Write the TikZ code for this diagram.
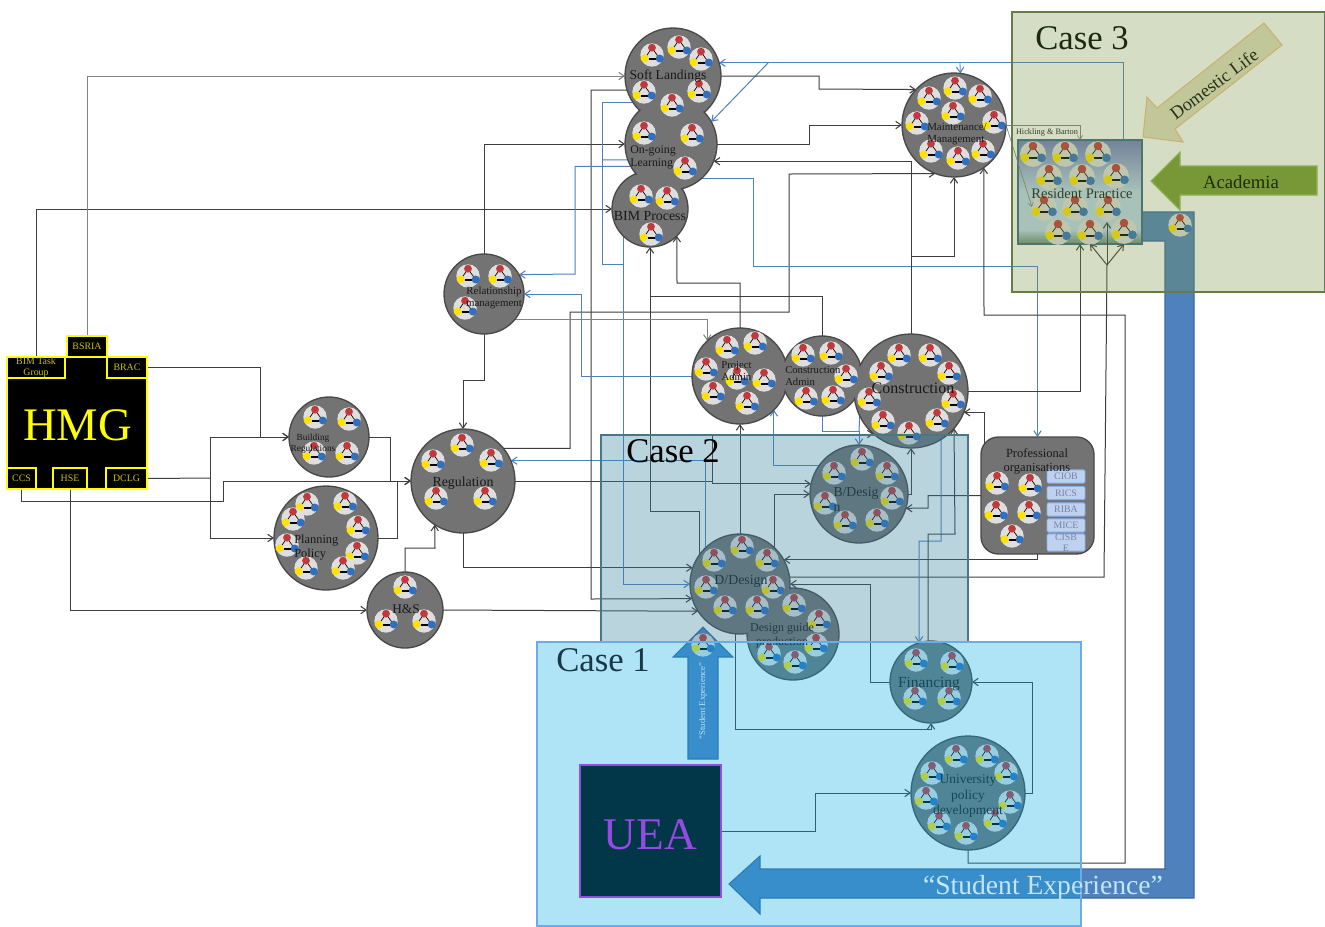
\documentclass[tikz,border=0pt]{standalone}
\usepackage{fontspec}
\setmainfont{Liberation Serif}
\usetikzlibrary{arrows.meta,calc}
\definecolor{dk}{RGB}{62,62,62}
\definecolor{gy}{RGB}{130,130,130}
\definecolor{bu}{RGB}{79,129,189}
\definecolor{buD}{RGB}{60,105,160}
\definecolor{blobfill}{RGB}{115,115,115}
\definecolor{blobline}{RGB}{72,72,72}
\definecolor{icobg}{RGB}{222,222,222}
\definecolor{icored}{RGB}{192,57,60}
\definecolor{icoyel}{RGB}{255,226,0}
\definecolor{icoblu}{RGB}{50,112,190}
\definecolor{hmgy}{RGB}{255,255,0}
\definecolor{hmgt}{RGB}{205,195,0}
\definecolor{caseA}{RGB}{8,170,230}
\definecolor{caseAl}{RGB}{110,170,230}
\definecolor{caseB}{RGB}{55,129,156}
\definecolor{caseBl}{RGB}{70,120,140}
\definecolor{caseC}{RGB}{118,146,60}
\definecolor{caseCl}{RGB}{100,125,70}
\definecolor{miniF}{RGB}{190,210,240}
\definecolor{miniD}{RGB}{135,175,230}
\definecolor{miniT}{RGB}{120,130,160}
\definecolor{txt}{RGB}{25,25,25}
\definecolor{domF}{RGB}{228,223,196}
\definecolor{domD}{RGB}{240,190,140}
\definecolor{acaF}{RGB}{121,155,54}
\definecolor{acaD}{RGB}{150,190,90}
\definecolor{resD}{RGB}{60,105,130}
\definecolor{ueaC}{RGB}{215,30,225}
\definecolor{tcA}{RGB}{25,55,70}
\definecolor{tcC}{RGB}{30,40,15}
\definecolor{tcD}{RGB}{40,50,25}
\definecolor{tcE}{RGB}{30,45,10}
\definecolor{tcS}{RGB}{195,230,250}
\definecolor{tcU}{RGB}{190,225,245}
\definecolor{rgA}{RGB}{106,137,117}
\definecolor{rgB}{RGB}{190,215,240}
\definecolor{rgC}{RGB}{115,125,195}
\pgfdeclareverticalshading{resgrad}{100bp}{color(0bp)=(rgA); color(25bp)=(rgA); color(32bp)=(rgB); color(50bp)=(rgB); color(75bp)=(rgC); color(100bp)=(rgC)}
\pgfdeclarelayer{bottom}
\pgfdeclarelayer{lines}
\pgfsetlayers{bottom,lines,main}
\tikzset{
  barb/.tip={Straight Barb[length=4pt,width=5.5pt,line width=.8pt]},
  dl/.style={draw=dk,line width=.75pt,-barb},
  dn/.style={draw=dk,line width=.75pt},
  bl/.style={draw=bu,line width=.75pt,-barb},
  bn/.style={draw=bu,line width=.75pt},
  gl/.style={draw=gy,line width=.75pt,-barb},
  thinl/.style={draw=gy,line width=.5pt,-{Straight Barb[length=3pt,width=4pt]}},
  blob/.style={circle,draw=blobline,fill=blobfill,line width=1pt,inner sep=0pt,outer sep=0pt},
  lab/.style={inner sep=0pt,align=center,text=txt},
  hbox/.style={draw=hmgy,fill=black,line width=.9pt,inner sep=0pt,outer sep=0pt,align=center,text=hmgt,font=\fontsize{7.4}{8.6}\selectfont},
  mini/.style={draw=miniD,fill=miniF,line width=.7pt,rounded corners=1pt,minimum width=28.5pt,minimum height=10pt,inner sep=0pt,text=miniT,align=center,font=\fontsize{7.4}{8}\selectfont},
  casebox/.style={inner sep=0pt,outer sep=0pt,line width=.8pt},
}
\newcommand\blobnode[4]{\node[blob,minimum size=#4*1.5pt] (#1) at (#2,#3) {};}
\newcommand\blobtop[3]{\fill[blobfill] (#1.center) circle[radius=#2-1.2];}
\newcommand\oneico{%
  \fill[icobg] (0,0) circle[radius=11.7];
  \draw[black,line width=.5pt] (0,-7)--(-7.4,3.4) (0,-7)--(7.6,3.4);
  \fill[icored] (0,-7.3) circle[radius=3.9];
  \fill[icoblu] (7.7,3.5) circle[radius=4];
  \fill[icoyel] (-7.4,3.3) circle[radius=4];
  \draw[black,line width=.55pt] (-3.5,2.9)--(3.5,2.9) (-3.5,4)--(3.5,4);
}
\newcommand\icons[2][1]{\foreach \a/\b in {#2}{\begin{scope}[shift={(\a,\b)},scale=#1]\oneico\end{scope}}}
\begin{document}
\begin{tikzpicture}[x=.75pt,y=-.75pt]
\path[use as bounding box] (0,0) rectangle (1325,926);

\begin{pgfonlayer}{bottom}
\fill[white] (0,0) rectangle (1325,926);
% big arrows under the case panels
\draw[fill=bu,draw=buD,line width=.8pt] (1141,212)--(1194,212)--(1194,898)--(760,898)--(760,914)--(729,884)--(760,856)--(760,869)--(1165,869)--(1165,241)--(1141,241)--cycle;
\draw[fill=bu,draw=buD,line width=.8pt] (703,627)--(733,657)--(718,657)--(718,759)--(688,759)--(688,657)--(673,657)--cycle;
\icons{703/645,1180/225}
\draw[fill=domF,draw=domD,line width=.8pt] (1143,137)--(1183,142)--(1175,129)--(1282,45)--(1264,23)--(1157,108)--(1147,97)--cycle;
\draw[fill=acaF,draw=acaD,line width=.8pt] (1151,181)--(1180,152)--(1180,166)--(1317,166)--(1317,195)--(1180,195)--(1180,210)--cycle;
% Resident practice
\node[shading=resgrad,draw=resD,line width=1pt,minimum width=93pt,minimum height=78pt,inner sep=0pt,outer sep=0pt] (res) at (1080,192) {};
\icons[1.1]{1033/154,1065/154,1098/154,1049/177,1082/177,1116/176,1044/208,1075/208,1108/208,1058/232,1090/232,1124/231}
\end{pgfonlayer}

% circles
\blobnode{soft}{673}{76}{48}
\blobnode{bim}{650}{209}{38}
\blobnode{learn}{671}{144}{46}
\blobnode{maint}{954}{125}{52}
\blobnode{rel}{484}{294}{40}
\blobnode{proj}{740}{376}{48}
\blobnode{cons}{822}{376}{40}
\blobnode{constr}{911}{391}{57}
\blobnode{bdes}{859}{494}{49}
\blobnode{guide}{793}{634}{46}
\blobnode{ddes}{740}{584}{50}
\blobnode{fin}{931}{682}{41}
\blobnode{univ}{968}{793}{57}
\blobnode{breg}{329}{437}{40}
\blobnode{plan}{326}{538}{52}
\blobnode{reg}{463}{481}{52}
\blobnode{hs}{405}{610}{38}
\node[draw=blobline,fill=blobfill,line width=1pt,rounded corners=13pt,minimum width=84.75pt,minimum height=87.75pt,inner sep=0pt,outer sep=0pt] (prof) at (1037.5,495.5) {};
% merged groups have no inner outline
\blobtop{soft}{48}{}\blobtop{bim}{38}{}\blobtop{learn}{46}{}
\blobtop{proj}{48}{}\blobtop{cons}{40}{}\blobtop{constr}{57}{}
\blobtop{ddes}{50}{}\blobtop{guide}{46}{}

% HMG block
\node[hbox,minimum width=105pt,minimum height=99pt] (hmg) at (77,423) {};
\node[hbox,minimum width=30pt,minimum height=15.75pt] (bsria) at (87,346.5) {BSRIA};
\node[hbox,minimum width=43.5pt,minimum height=15.75pt] (task) at (36,367.5) {BIM Task\\Group};
\node[hbox,minimum width=30pt,minimum height=15.75pt] (brac) at (127,367.5) {BRAC};
\node[hbox,minimum width=21.75pt,minimum height=15.75pt] (ccs) at (21.5,478.5) {CCS};
\node[hbox,minimum width=25.5pt,minimum height=15.75pt] (hse) at (70,478.5) {HSE};
\node[hbox,minimum width=30.75pt,minimum height=15.75pt] (dclg) at (126.5,478.5) {DCLG};
\node[lab,text=hmgy,font=\fontsize{35}{35}\selectfont] (thmg) at (77.5,425) {HMG};

% UEA
\node[draw=ueaC,fill=black,line width=1pt,minimum width=105.75pt,minimum height=99pt,inner sep=0pt,outer sep=0pt,text=ueaC,font=\fontsize{34}{34}\selectfont] (uea) at (650.5,831) {\raisebox{-2.5pt}[\height][0pt]{UEA}};

% junction coordinates
\coordinate (jbim) at (650,296);
\coordinate (jfork) at (1107,265);
\coordinate (jres1) at (1107,222);
\coordinate (jres2) at (1090,244);
\coordinate (jres3) at (1124,244);
\coordinate (jblue) at (1123,140);
\coordinate (jdiag) at (768,63);
\coordinate (jmt) at (960,63);
\coordinate (jreg) at (712,481);
\coordinate (jmnt) at (911,256);
\coordinate (jhmg) at (210,478);
\coordinate (jprof) at (984,445);
\coordinate (jrp) at (1032,207);
\coordinate (jlearn) at (602,160);

\begin{pgfonlayer}{lines}
% connectors: HMG
\draw[dl] (task.north) |- (bim.180);
\draw[gl] (bsria.north) |- (soft.180);
\draw[dl] (brac.east) -| (260,437) -- (breg.180);
\draw[dn] (dclg.east) -- (jhmg);
\draw[dl] (jhmg) |- (breg.180);
\draw[dl] (jhmg) |- (plan.180);
\draw[dl] (ccs.south) |- (223,501) |- (reg.180);
\draw[dl] (hse.south) |- (hs.180);
% to Regulation
\draw[dl] (breg.0) -| (390,481) -- (reg.180);
\draw[dn] (plan.0) -| (397,481);
\draw[dl] (hs.90) |- (435,548) -- (reg.237);
\draw[dl] (rel.270) |- (463,380) -- (reg.90);
% from Regulation
\draw[dl] (reg.270) |- (ddes.161);
\draw[dl] (hs.0) -- (ddes.213);
\draw[dn] (reg.0) -- (jreg);
\draw[dl] (jreg) |- (bdes.168);
\draw[dl] (jreg) |- (constr.229);
\draw[dl] (reg.39) -| (570,312) -| (789,174) -- (maint.249);
\draw[bl] (ddes.134) |- (reg.23);
% top group
\draw[dl] (proj.90) |- (677,283) -- (bim.315);
\draw[dn] (cons.90) |- (jbim);
\draw[dl] (ddes.145) |- (650,511) -- (bim.270);
\draw[dl] (ddes.90) -- (proj.270);
\draw[dl] (soft.197) -| (591,599) -- (ddes.197);
\draw[dl] (rel.90) |- (learn.180);
\draw[bn] (soft.214) -| (602,264) -- (623,264);
\draw[bn] (learn.200) -- (jlearn);
\draw[bl] (bim.225) |- (ddes.180);
\draw[bl] (learn.209) -| (575,274) -- (rel.29);
\draw[bl] (proj.180) -| (581,294) -- (rel.0);
\draw[bl] (learn.312) -| (753,266) -| (prof.north);
\draw[gl] (rel.321) -| (proj.133);
\draw[bl] (jblue) |- (soft.16);
\draw[bl] (jdiag) -- (learn.29);
\draw[bl,line width=.6pt] (jmt) -- (maint.83);
\draw[dl] (soft.0) -| (819,89) -- (maint.137);
\draw[dl] (learn.0) -| (809,125) -- (maint.180);
\draw[dl] (constr.90) |- (learn.338);
\draw[dl] (jmnt) -| (maint.270);
\draw[dl] (univ.270) |- (1125,863) |- (984,315) -- (maint.305);
\draw[dl] (constr.0) -| (res.south);
\draw[dn] (ddes.8) -- (1104,577) -- (jfork);
\draw[dl] (jfork) -- (jres1);
\draw[dl] (jfork) -- (jres2);
\draw[dl] (jfork) -- (jres3);
\draw[thinl] (maint.0) -| (res.north);
\draw[thinl] (maint.0) -- (jrp);
% professional organisations, designs
\draw[dl] (jprof) |- (constr.338);
\draw[dl] (prof.west) -| (928,508) -- (bdes.343);
\draw[dl] (prof.south) |- (ddes.29);
\draw[dl] (ddes.46) |- (bdes.180);
\draw[dl] (bdes.0) -| (constr.270);
\draw[bl] (cons.270) |- (859,431) -- (bdes.90);
\draw[bn] (constr.206) -- (859,431);
\draw[bl] (bdes.145) -| (proj.315);
\draw[dl] (fin.180) -| (870,584) -- (ddes.0);
\draw[dl] (ddes.265) |- (931,729) -- (fin.270);
\draw[dl] (uea.east) -| (815,793) -- (univ.180);
\draw[dl] (univ.0) -| (1032,682) -- (fin.0);
\draw[bl] (constr.302) |- (919,541) -- (fin.107);
\draw[dl] (fin.94) |- (955,534) -- (constr.319);
\end{pgfonlayer}

% icons
\icons{652/55,679/47,701/59,644/92,699/91,672/105}
\icons{644/133,692/135,685/168}
\icons{641/196,667/198,651/234}
\icons{955/88,929/98,980/96,953/113,917/123,994/122,931/151,958/158,983/151}
\icons{468/276,500/276,465/308}
\icons{315/417,349/419,314/453,347/453}
\icons{307/504,345/503,293/519,358/527,287/545,357/553,306/568,343/568}
\icons{462/445,433/461,491/460,436/498,485/498}
\icons{405/587,386/621,424/621}
\icons{727/347,755/343,706/369,737/378,764/380,713/393,747/403}
\icons{803/355,831/353,846/376,806/398,833/397}
\icons{899/355,930/355,881/373,949/373,869/399,953/401,883/422,937/420,909/433}
\icons{862/459,834/473,887/473,825/503,892/498,845/522,877/520}
\icons{997/483,1030/485,996/512,1029/512,1012/536}
\icons{742/547,714/560,767/560,706/587,773/587,725/607,757/607}
\icons{794/605,819/621,816/645,769/654,795/662}
\icons{916/660,952/663,915/698,949/698}
\icons{956/756,987/756,932/773,1006/773,926/798,1010/802,939/823,995/820,966/833}

% professional body boxes
\node[mini] (ciob) at (1066,476.5) {CIOB};
\node[mini] (rics) at (1066,493) {RICS};
\node[mini] (riba) at (1066,509.5) {RIBA};
\node[mini] (mice) at (1066,525.5) {MICE};
\node[mini] (cisb) at (1066,542.5) {\raisebox{2pt}{CISB}\\[-2pt]E};

% labels on circles
\node[lab,font=\fontsize{10.2}{12}\selectfont] (tsoft) at (668,76) {Soft Landings};
\node[lab,font=\fontsize{8.9}{9.8}\selectfont,align=left,anchor=west] (tlearn) at (630,157) {On-going\\Learning};
\node[lab,font=\fontsize{10.4}{12}\selectfont] (tbim) at (650,216) {BIM Process};
\node[lab,font=\fontsize{8.2}{9}\selectfont,align=left,anchor=west] (tmaint) at (927,134) {Maintenance/\\Management};
\node[lab,font=\fontsize{8.2}{9}\selectfont] (trel) at (494,298) {Relationship\\management};
\node[lab,font=\fontsize{7}{8.2}\selectfont] (tbreg) at (313,444) {Building\\Regulations};
\node[lab,font=\fontsize{9.3}{10.5}\selectfont,align=left,anchor=west] (tplan) at (294,548) {Planning\\Policy};
\node[lab,font=\fontsize{10.4}{12}\selectfont] (treg) at (463,483) {Regulation};
\node[lab,font=\fontsize{10}{12}\selectfont] (ths) at (406,609) {H\&S};
\node[lab,font=\fontsize{8}{9}\selectfont] (tproj) at (736.5,371) {Project\\Admin};
\node[lab,font=\fontsize{8}{9}\selectfont,align=left,anchor=west] (tcons) at (785,376) {Construction\\Admin};
\node[lab,font=\fontsize{12}{14}\selectfont] (tconstr) at (913,388) {Construction};
\node[lab,font=\fontsize{10.3}{12}\selectfont] (tbdes) at (856,493) {B/Desig};
\node[lab,font=\fontsize{10.3}{12}\selectfont] (tbdes2) at (837,508) {n};
\node[lab,font=\fontsize{9.4}{10.5}\selectfont] (tprof) at (1037,461) {Professional\\organisations};
\node[lab,font=\fontsize{10.4}{12}\selectfont] (tddes) at (741,581) {D/Design};
\node[lab,font=\fontsize{9}{10.4}\selectfont] (tguide) at (782,636) {Design guide\\production};
\node[lab,font=\fontsize{11.6}{13}\selectfont] (tfin) at (929,684) {Financing};
\node[lab,font=\fontsize{10.1}{11.6}\selectfont] (tuniv) at (968,796) {University\\policy\\development};
\node[lab,font=\fontsize{10.9}{12}\selectfont] (tres) at (1082,194) {Resident Practice};
\node[lab,font=\fontsize{6.2}{7}\selectfont] (thb) at (1047,133) {Hickling \& Barton};

% case panels
\node[casebox,draw=caseBl,fill=caseB,fill opacity=.34,minimum width=275.25pt,minimum height=155.25pt] (case2) at (784.5,538.5) {};
\node[casebox,draw=caseAl,fill=caseA,fill opacity=.32,minimum width=408pt,minimum height=213pt] (case1) at (809,784) {};
\node[casebox,draw=caseCl,fill=caseC,fill opacity=.3,minimum width=234.75pt,minimum height=210pt] (case3) at (1168.5,152) {};

% labels above the panels
\node[lab,font=\fontsize{26}{26}\selectfont,text=black] (lc2) at (673,451) {Case 2};
\node[lab,font=\fontsize{26}{26}\selectfont,text=tcA] (lc1) at (603,660) {Case 1};
\node[lab,font=\fontsize{26}{26}\selectfont,text=tcC] (lc3) at (1082,38) {Case 3};
\node[lab,font=\fontsize{13.7}{14}\selectfont,rotate=37,text=tcD] (ldom) at (1214,84) {Domestic Life};
\node[lab,font=\fontsize{14}{14}\selectfont,text=tcE] (laca) at (1241,182) {Academia};
\node[lab,font=\fontsize{20.7}{21}\selectfont,text=tcS] (lse) at (1043,888) {“Student Experience”};
\node[lab,font=\fontsize{6.6}{7}\selectfont,rotate=90,text=tcU] (lse2) at (703,701) {“Student Experience”};
\end{tikzpicture}
\end{document}
